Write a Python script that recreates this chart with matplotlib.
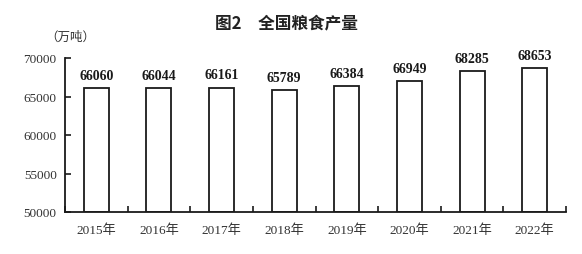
import matplotlib
matplotlib.use("Agg")
import matplotlib.pyplot as plt
import numpy as np

years = ["2015年", "2016年", "2017年", "2018年", "2019年", "2020年", "2021年", "2022年"]
output = [66060, 66044, 66161, 65789, 66384, 66949, 68285, 68653]
y_ticks = [50000, 55000, 60000, 65000, 70000]

serif = ["Liberation Serif", "Noto Sans CJK SC"]
cjk = ["Noto Sans CJK SC", "DejaVu Sans"]
ink = "#1a1a1a"

fig = plt.figure(figsize=(5.82, 2.55), dpi=100)
ax = fig.add_axes([65 / 582, 42 / 255, 501 / 582, 154 / 255])

x = np.arange(len(years))
ax.bar(x, [v - 50000 for v in output], bottom=50000, width=0.4,
       color="white", edgecolor=ink, linewidth=1.3)

for xi, v in zip(x, output):
    ax.text(xi, v + 800, f"{v}", ha="center", va="bottom",
            fontsize=10, fontweight="bold", family=serif, color=ink)

ax.set_xlim(-0.5, len(years) - 0.5)
ax.set_ylim(50000, 70000)
ax.set_yticks(y_ticks)
ax.set_yticklabels([str(t) for t in y_ticks], family=serif, fontsize=9.5, color="#333333")
ax.set_xticks(x)
ax.set_xticklabels(years, family=serif, fontsize=9.5, color="#333333")
ax.tick_params(axis="x", length=0, pad=8)
ax.tick_params(axis="y", direction="in", length=4, width=1.2, color=ink, pad=6)

# category boundary ticks along the bottom axis
ax.set_xticks(np.arange(-0.5, len(years) + 0.5, 1.0), minor=True)
ax.tick_params(axis="x", which="minor", direction="in", length=4, width=1.2, color=ink)

for s in ["top", "right"]:
    ax.spines[s].set_visible(False)
for s in ["left", "bottom"]:
    ax.spines[s].set_color(ink)
    ax.spines[s].set_linewidth(1.3)

fig.text(286.5 / 582, 1 - 23 / 255, "图2　全国粮食产量", ha="center", va="center",
         fontsize=12, fontweight="bold", family=cjk, color="#222222")
fig.text(70 / 582, 1 - 37 / 255, "（万吨）", ha="center", va="center",
         fontsize=9, family=cjk, color="#333333")

fig.savefig("out.png", dpi=100, facecolor="white")
